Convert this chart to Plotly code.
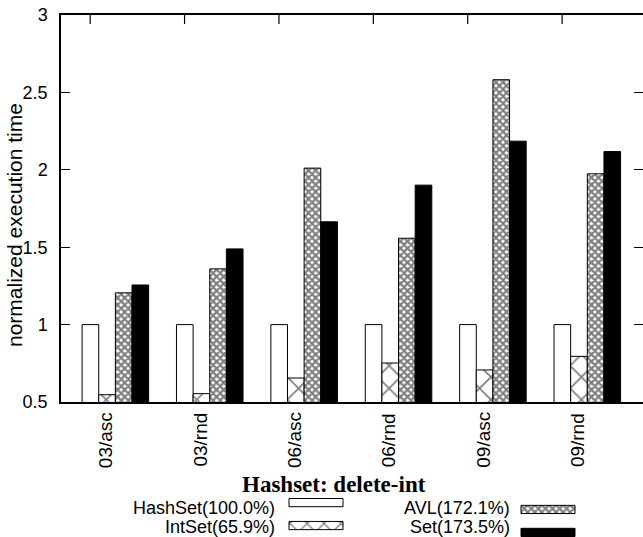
import plotly.graph_objects as go

# ---------------- data ----------------
categories = ["03/asc", "03/rnd", "06/asc", "06/rnd", "09/asc", "09/rnd"]
series_names = ["HashSet", "IntSet", "AVL", "Set"]
legend_labels = ["HashSet(100.0%)", "IntSet(65.9%)", "AVL(172.1%)", "Set(173.5%)"]
hashset = [1.0, 1.0, 1.0, 1.0, 1.0, 1.0]
intset = [0.547, 0.554, 0.655, 0.752, 0.707, 0.795]
avl = [1.205, 1.36, 2.011, 1.558, 2.582, 1.974]
setv = [1.256, 1.489, 1.664, 1.901, 2.185, 2.118]
y_ticks = [0.5, 1, 1.5, 2, 2.5, 3]
y_tick_text = ["0.5", "1", "1.5", "2", "2.5", "3"]
title_text = "Hashset: delete-int"
y_title = "normalized execution time"

# ---------------- styles ----------------
W, H = 643, 537
ML, MR, MT, MB = 61, 0, 15, 0
plot_w = W - ML - MR
plot_h = H - MT - MB
axis_bottom_px = 402
main_dom_bottom = (H - axis_bottom_px) / plot_h
y_range = [0.5, 3]

FONT = "Liberation Sans, Arial, Helvetica, sans-serif"
SERIF = "Liberation Serif, Times New Roman, serif"

styles = [
    dict(color="white", pattern=None),
    dict(color="white", pattern=dict(shape="x", size=16, solidity=0.2, fgcolor="black", bgcolor="white", fillmode="overlay")),
    dict(color="white", pattern=dict(shape="x", size=5, solidity=0.7, fgcolor="black", bgcolor="white", fillmode="overlay")),
    dict(color="black", pattern=None),
]
all_values = [hashset, intset, avl, setv]

xpos = list(range(len(categories)))
x_range = [-0.576, 5.59]
top_tick_pos = [p - 0.267 for p in xpos]
tick_len_px = 9

fig = go.Figure()
for name, vals, st in zip(series_names, all_values, styles):
    marker = dict(color=st["color"], line=dict(color="black", width=1))
    if st["pattern"]:
        marker["pattern"] = st["pattern"]
    fig.add_trace(go.Bar(x=xpos, y=vals, name=name, marker=marker,
                         showlegend=False, xaxis="x", yaxis="y"))

# top-edge tick marks (gnuplot style) as layout shapes at the tick positions
for t in top_tick_pos:
    fig.add_shape(type="line", xref="x", yref="paper", x0=t, x1=t,
                  y0=1, y1=1 - tick_len_px / plot_h,
                  line=dict(color="black", width=1.2), layer="above")

# helper trace so the right-side tick axis renders
fig.add_trace(go.Scatter(x=[0], y=[0.5], mode="none", xaxis="x", yaxis="y2", showlegend=False, hoverinfo="skip"))

# category labels below the axis (rotated, right end near the axis)
label_center_px = 440
for p, cat in zip(xpos, categories):
    fig.add_annotation(x=p - 0.108, y=(H - label_center_px) / plot_h, xref="x", yref="paper",
                       text=cat, showarrow=False, textangle=-90, xanchor="center", yanchor="middle",
                       font=dict(family=FONT, size=19, color="black"))

# ---------------- custom legend (text left, swatch right) ----------------
leg_rows = [0, 1, 0, 1]
leg_cols = [0, 0, 1, 1]
col_text_right = [277, 512]
col_swatch_left = [289, 521]
swatch_len = 54
for i, (name, lab, st) in enumerate(zip(series_names, legend_labels, styles)):
    marker = dict(color=st["color"], line=dict(color="black", width=1))
    if st["pattern"]:
        p = dict(st["pattern"])
        p["size"] = 12 if i == 1 else 5
        marker["pattern"] = p
    fig.add_trace(go.Bar(y=[leg_rows[i]], x=[swatch_len], base=[col_swatch_left[leg_cols[i]]],
                         orientation="h", width=0.42, marker=marker, showlegend=False,
                         xaxis="x3", yaxis="y3", hoverinfo="skip"))
    fig.add_annotation(x=col_text_right[leg_cols[i]], y=leg_rows[i], xref="x3", yref="y3",
                       text=lab, showarrow=False, xanchor="right", yanchor="middle",
                       font=dict(family=FONT, size=18, color="black"))

fig.add_annotation(x=(334 - ML) / plot_w, y=(H - 484) / plot_h, xref="paper", yref="paper",
                   text="<b>" + title_text + "</b>", showarrow=False, xanchor="center", yanchor="middle",
                   font=dict(family=SERIF, size=23, color="black"))
fig.add_annotation(x=-(ML - 15) / plot_w, y=(H - 225) / plot_h, xref="paper", yref="paper",
                   text=y_title, showarrow=False, textangle=-90, xanchor="center", yanchor="middle",
                   font=dict(family=FONT, size=21, color="black"))

leg_top_px, leg_bot_px = 498, 537
fig.update_layout(
    template="none",
    width=W, height=H,
    margin=dict(l=ML, r=MR, t=MT, b=MB, pad=0, autoexpand=False),
    paper_bgcolor="white", plot_bgcolor="white",
    barmode="group", bargap=0.295, bargroupgap=0,
    font=dict(family=FONT, size=18, color="black"),
    xaxis=dict(type="linear", domain=[0, 1], range=x_range, automargin=False,
               showticklabels=False, ticks="",
               showline=True, linecolor="black", linewidth=1.5, mirror=True,
               showgrid=False, zeroline=False, anchor="y"),
    yaxis=dict(type="linear", domain=[main_dom_bottom, 1], range=y_range, tickmode="array", automargin=False,
               tickvals=y_ticks, ticktext=y_tick_text, ticks="inside", ticklen=tick_len_px, tickwidth=1,
               tickcolor="black", showline=True, linecolor="black", linewidth=1.5, mirror=False,
               showgrid=False, zeroline=False, anchor="x",
               tickfont=dict(family=FONT, size=18), ticklabelstandoff=8),
    yaxis2=dict(type="linear", overlaying="y", side="right", anchor="x", range=y_range, tickmode="array",
                automargin=False,
                tickvals=y_ticks, ticks="inside", ticklen=tick_len_px, tickwidth=1, tickcolor="black",
                showticklabels=False, showline=False, showgrid=False, zeroline=False),
    xaxis3=dict(type="linear", domain=[0, 1], range=[ML, W], anchor="y3", visible=False, fixedrange=True, automargin=False),
    yaxis3=dict(type="linear", domain=[(H - leg_bot_px) / plot_h, (H - leg_top_px) / plot_h], range=[1.5, -0.5],
                anchor="x3", visible=False, fixedrange=True, automargin=False),
)

fig.write_html("out.html")
